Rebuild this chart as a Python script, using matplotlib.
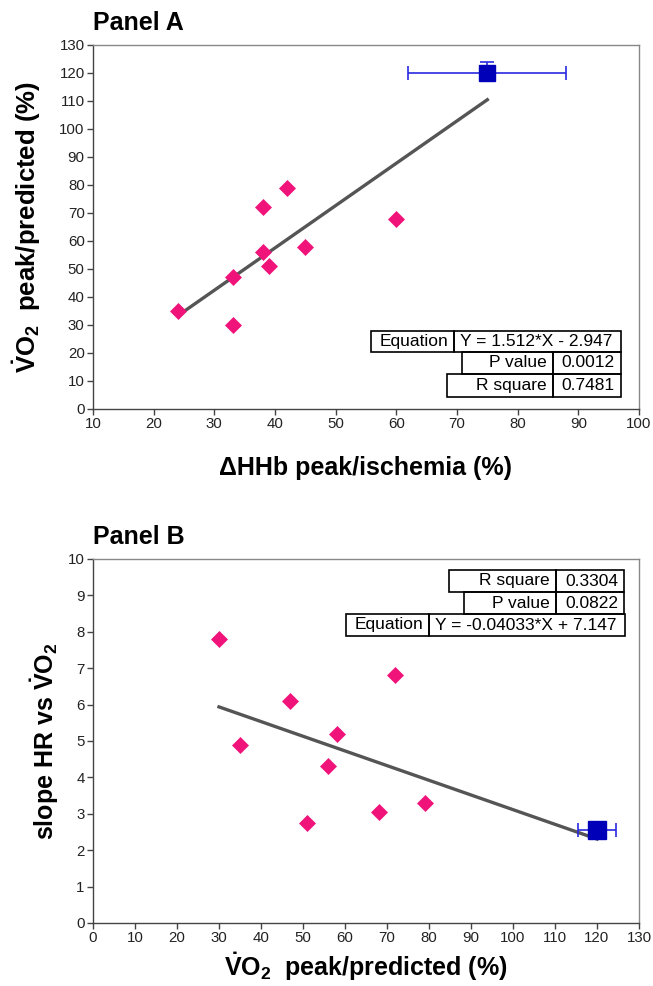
import matplotlib
matplotlib.use("Agg")
import matplotlib.pyplot as plt
from matplotlib.patches import Rectangle

plt.rcParams['font.family'] = ['Liberation Sans', 'DejaVu Sans']
plt.rcParams['mathtext.fontset'] = 'custom'
plt.rcParams['mathtext.rm'] = 'Liberation Sans:bold'
plt.rcParams['mathtext.bf'] = 'Liberation Sans:bold'
plt.rcParams['mathtext.it'] = 'Liberation Sans:bold'

# Panel A data
hhb = [24, 33, 33, 38, 38, 39, 42, 45, 60]
vo2_a = [35, 47, 30, 72, 56, 51, 79, 58, 68]
ref_a_x, ref_a_y = 75, 120
ref_a_xerr = 13
ref_a_yerr_up = 4
fit_a = (1.512, -2.947)
table_a = [("Equation", "Y = 1.512*X - 2.947"), ("P value", "0.0012"), ("R square", "0.7481")]

# Panel B data
vo2_b = [30, 35, 47, 51, 56, 58, 68, 72, 79]
slope_hr = [7.8, 4.9, 6.1, 2.75, 4.3, 5.2, 3.05, 6.8, 3.3]
ref_b_x, ref_b_y = 120, 2.55
ref_b_xerr = 4.5
fit_b = (-0.04033, 7.147)
table_b = [("R square", "0.3304"), ("P value", "0.0822"), ("Equation", "Y = -0.04033*X + 7.147")]

PINK = '#F0147A'
BLUE = '#0000B8'
EBLUE = '#2a2ae0'
W, H = 653, 986

fig = plt.figure(figsize=(W / 100, H / 100), dpi=100)


def px_axes(l, t, r, b):
    return fig.add_axes([l / W, 1 - b / H, (r - l) / W, (b - t) / H])


def style(ax):
    for s in ['top', 'right']:
        ax.spines[s].set_color('#888888')
    for s in ['left', 'bottom']:
        ax.spines[s].set_color('#444444')
    for s in ax.spines.values():
        s.set_linewidth(1.0)
    ax.tick_params(direction='out', length=4.5, width=1, color='#444444',
                   labelsize=10.8, labelcolor='#222222', pad=1.5)


def cell_table(rows):
    # rows: list of (l, t, r, b, divider_x, label, value)
    for l, t, r, b, d, lab, val in rows:
        for x0, x1 in [(l, d), (d, r)]:
            fig.patches.append(Rectangle((x0 / W, 1 - b / H), (x1 - x0) / W, (b - t) / H,
                                         transform=fig.transFigure, fill=False,
                                         edgecolor='black', linewidth=1.2))
        ym = 1 - (t + b) / 2 / H
        fig.text((d - 6) / W, ym, lab, ha='right', va='center', fontsize=12.5)
        if lab == "Equation":
            fig.text((d + 6) / W, ym, val, ha='left', va='center', fontsize=12.5)
        else:
            fig.text((r - 6) / W, ym, val, ha='right', va='center', fontsize=12.5)


# ---- Panel A ----
ax = px_axes(93, 45, 639, 409)
ax.plot([min(hhb), ref_a_x], [fit_a[0] * min(hhb) + fit_a[1], fit_a[0] * ref_a_x + fit_a[1]],
        color='#555555', lw=2.4, zorder=2)
ax.scatter(hhb, vo2_a, marker='D', s=75, color=PINK, zorder=3, linewidths=0)
ax.errorbar([ref_a_x], [ref_a_y], xerr=ref_a_xerr, yerr=[[0], [ref_a_yerr_up]],
            fmt='s', ms=11.5, color=BLUE, ecolor=EBLUE, elinewidth=1.2, capsize=5,
            capthick=1.2, zorder=4)
ax.set_xlim(10, 100)
ax.set_ylim(0, 130)
ax.set_xticks(range(10, 101, 10))
ax.set_yticks(range(0, 131, 10))
style(ax)
ax.set_xlabel('ΔHHb peak/ischemia (%)', fontsize=18, fontweight='bold', labelpad=18)
ax.set_ylabel(r'$\dot{V}O_2$  peak/predicted (%)', fontsize=18.5, fontweight='bold', labelpad=12)
fig.text(93 / W, 1 - 23 / H, 'Panel A', fontsize=18, fontweight='bold', ha='left', va='center')

cell_table([
    (371, 331, 621, 352, 454) + table_a[0],
    (462, 352, 621, 374, 553) + table_a[1],
    (447, 374, 621, 397, 553) + table_a[2],
])

# ---- Panel B ----
bx = px_axes(93, 559, 639, 923)
bx.plot([min(vo2_b), ref_b_x], [fit_b[0] * min(vo2_b) + fit_b[1], fit_b[0] * ref_b_x + fit_b[1]],
        color='#555555', lw=2.4, zorder=2)
bx.scatter(vo2_b, slope_hr, marker='D', s=75, color=PINK, zorder=3, linewidths=0)
bx.errorbar([ref_b_x], [ref_b_y], xerr=ref_b_xerr,
            fmt='s', ms=13.5, color=BLUE, ecolor=EBLUE, elinewidth=1.2, capsize=5,
            capthick=1.2, zorder=4)
bx.set_xlim(0, 130)
bx.set_ylim(0, 10)
bx.set_xticks(range(0, 131, 10))
bx.set_yticks(range(0, 11, 1))
style(bx)
bx.set_xlabel(r'$\dot{V}O_2$  peak/predicted (%)', fontsize=18, fontweight='bold', labelpad=4)
bx.set_ylabel(r'slope HR vs $\dot{V}O_2$', fontsize=18, fontweight='bold', labelpad=5)
fig.text(93 / W, 1 - 537 / H, 'Panel B', fontsize=18, fontweight='bold', ha='left', va='center')

cell_table([
    (449, 570, 624, 592, 556) + table_b[0],
    (464, 592, 624, 614, 556) + table_b[1],
    (346, 614, 625, 636, 429) + table_b[2],
])

fig.savefig('out.png', dpi=100)
